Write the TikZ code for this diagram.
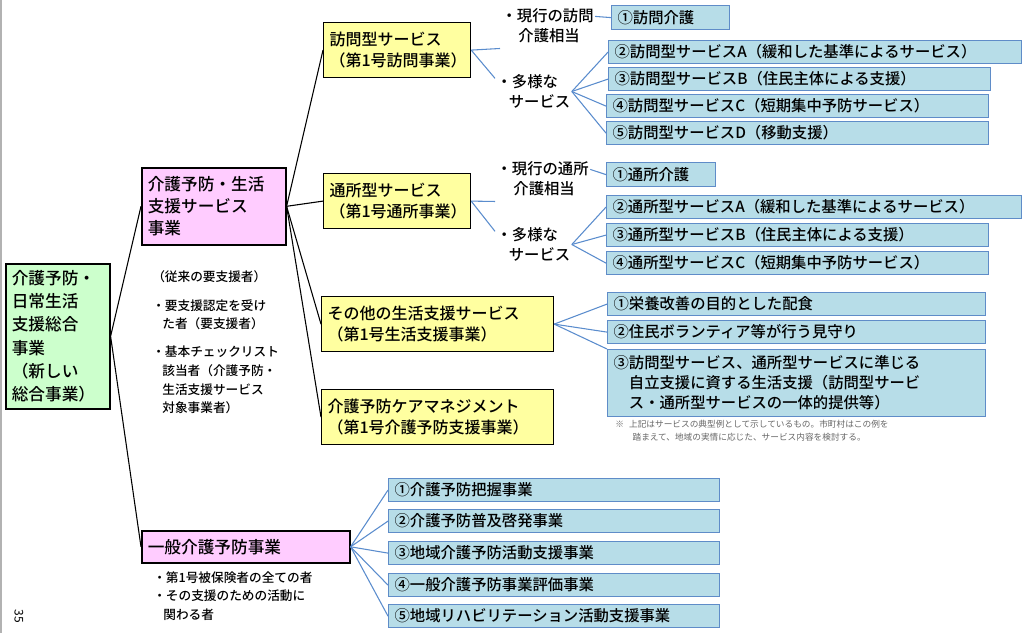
\documentclass[tikz,border=0pt]{standalone}
\usepackage{fontspec}
\setmainfont{Noto Sans CJK JP}[BoldFont={Noto Sans CJK JP Medium}]
\begin{document}
\def\pxu{0.75pt}
\definecolor{gfill}{RGB}{204,255,204}
\definecolor{pfill}{RGB}{255,204,255}
\definecolor{yfill}{RGB}{255,255,160}
\definecolor{bfill}{RGB}{183,221,232}
\definecolor{bdraw}{RGB}{95,140,200}
\definecolor{bline}{RGB}{90,140,205}
\newcommand\bx[7]{\pgfmathsetmacro\tw{(#5-#3-12)*0.75}\pgfmathsetmacro\mh{(#6-#4)*0.75}%
\node[#1,anchor=north west,inner xsep=6*\pxu,inner ysep=0pt,text width=\tw pt,minimum height=\mh pt] (#2) at (#3,#4) {#7};}
\begin{tikzpicture}[x=0.75pt,y=-0.75pt,
  green box/.style={draw=black,line width=1.2pt,fill=gfill,align=left,font=\fontsize{12.5}{17.5}\selectfont\bfseries},
  pink box/.style={draw=black,line width=1.2pt,fill=pfill,align=left,font=\fontsize{12.5}{16.5}\selectfont\bfseries},
  yellow box/.style={draw=black,line width=0.9pt,fill=yfill,align=left,font=\fontsize{12}{15.5}\selectfont\bfseries},
  blue box/.style={draw=bdraw,line width=0.9pt,fill=bfill,align=left,font=\fontsize{11.5}{15}\selectfont\bfseries},
  lab/.style={align=left,font=\fontsize{11.5}{15}\selectfont\bfseries,inner sep=1pt},
  note/.style={align=left,font=\fontsize{9.5}{14}\selectfont\bfseries,inner sep=0pt,anchor=north west},
  bl/.style={draw=black,line width=0.8pt},
  cl/.style={draw=bline,line width=0.8pt}]
\useasboundingbox (0,0) rectangle (1024,633);
\draw[gray!60,line width=1pt] (1,0) -- (1,633);
% main
\bx{green box}{main}{5}{263}{109}{408}{介護予防・\\日常生活\\支援総合\\事業\\（新しい\\総合事業）}
\bx{pink box}{p1}{141}{167}{285}{244}{介護予防・生活\\支援サービス\\事業}
\bx{pink box}{p2}{141}{530}{349}{562}{一般介護予防事業}
\bx{yellow box}{y1}{323}{22}{470}{77}{訪問型サービス\\（第1号訪問事業）}
\bx{yellow box}{y2}{323}{173}{470}{228}{通所型サービス\\（第1号通所事業）}
\bx{yellow box}{y3}{321}{296}{553}{351}{その他の生活支援サービス\\（第1号生活支援事業）}
\bx{yellow box}{y4}{321}{389}{553}{444}{介護予防ケアマネジメント\\（第1号介護予防支援事業）}
% black connectors
\draw[bl] (main.east) -- (p1.west);
\draw[bl] (main.east) -- (p2.west);
\foreach \t in {y1,y2,y3,y4} \draw[bl] (p1.east) -- (\t.west);
% text notes
\node[note] (n1) at (152,270) {（従来の要支援者）};
\node[note] (n2) at (152,299) {・要支援認定を受け\\\hspace*{0.8em}た者（要支援者）};
\node[note] (n3) at (152,346) {・基本チェックリスト\\\hspace*{0.8em}該当者（介護予防・\\\hspace*{0.8em}生活支援サービス\\\hspace*{0.8em}対象事業者）};
\node[note] (n4) at (153,571) {・第1号被保険者の全ての者\\・その支援のための活動に\\\hspace*{0.8em}関わる者};
% labels
\node[lab,anchor=north west] (l1) at (500,7) {・現行の訪問\\\hspace*{1.1em}介護相当};
\node[lab,anchor=north west] (l2) at (495,73) {・多様な\\\hspace*{0.8em}サービス};
\node[lab,anchor=north west] (l3) at (495,160) {・現行の通所\\\hspace*{1.1em}介護相当};
\node[lab,anchor=north west] (l4) at (495,226) {・多様な\\\hspace*{0.8em}サービス};
\draw[cl] (y1.east) -- ([yshift=-3pt]l1.south west);
\draw[cl] (y1.east) -- ([yshift=-4pt]l2.north west);
\draw[cl] (y2.east) -- ([yshift=-3pt]l3.south west);
\draw[cl] (y2.east) -- ([yshift=-4pt]l4.north west);
% blue boxes 訪問
\bx{blue box}{h1}{611}{5}{729}{29}{①訪問介護}
\bx{blue box}{h2}{608}{40}{1021}{63}{②訪問型サービスA（緩和した基準によるサービス）}
\bx{blue box}{h3}{608}{67}{990}{90}{③訪問型サービスB（住民主体による支援）}
\bx{blue box}{h4}{606}{94}{988}{117}{④訪問型サービスC（短期集中予防サービス）}
\bx{blue box}{h5}{606}{121}{988}{144}{⑤訪問型サービスD（移動支援）}
\draw[cl] ([yshift=7pt]l1.east) -- (h1.west);
\foreach \t in {h2,h3,h4,h5} \draw[cl] (l2.east) -- (\t.west);
% blue boxes 通所
\bx{blue box}{t1}{606}{162}{715}{186}{①通所介護}
\bx{blue box}{t2}{606}{195}{1021}{218}{②通所型サービスA（緩和した基準によるサービス）}
\bx{blue box}{t3}{606}{223}{988}{246}{③通所型サービスB（住民主体による支援）}
\bx{blue box}{t4}{606}{251}{988}{274}{④通所型サービスC（短期集中予防サービス）}
\draw[cl] ([yshift=7pt]l3.east) -- (t1.west);
\foreach \t in {t2,t3,t4} \draw[cl] (l4.east) -- (\t.west);
% その他
\bx{blue box}{s1}{607}{292}{985}{315}{①栄養改善の目的とした配食}
\bx{blue box}{s2}{607}{320}{985}{343}{②住民ボランティア等が行う見守り}
\bx{blue box}{s3}{607}{349}{985}{416}{③訪問型サービス、通所型サービスに準じる\\\hspace*{1em}自立支援に資する生活支援（訪問型サービ\\\hspace*{1em}ス・通所型サービスの一体的提供等）}
\foreach \t in {s1,s2} \draw[cl] (y3.east) -- (\t.west);
\draw[cl] (y3.east) -- (s3.north west);
\node[note,font=\fontsize{6.5}{10}\selectfont,text=gray!80!black] (fn) at (615,420) {※\hspace{0.6em}上記はサービスの典型例として示しているもの。市町村はこの例を\\\hspace*{2em}踏まえて、地域の実情に応じた、サービス内容を検討する。};
% 一般
\bx{blue box}{g1}{388}{478}{719}{501}{①介護予防把握事業}
\bx{blue box}{g2}{388}{509}{719}{532}{②介護予防普及啓発事業}
\bx{blue box}{g3}{388}{541}{719}{564}{③地域介護予防活動支援事業}
\bx{blue box}{g4}{388}{573}{719}{596}{④一般介護予防事業評価事業}
\bx{blue box}{g5}{388}{604}{719}{627}{⑤地域リハビリテーション活動支援事業}
\foreach \t in {g1,g2,g3,g4,g5} \draw[cl] (p2.east) -- (\t.west);
\node[rotate=-90,font=\fontsize{9}{10}\selectfont,inner sep=0pt] (pg) at (19,616) {35};
\end{tikzpicture}
\end{document}
